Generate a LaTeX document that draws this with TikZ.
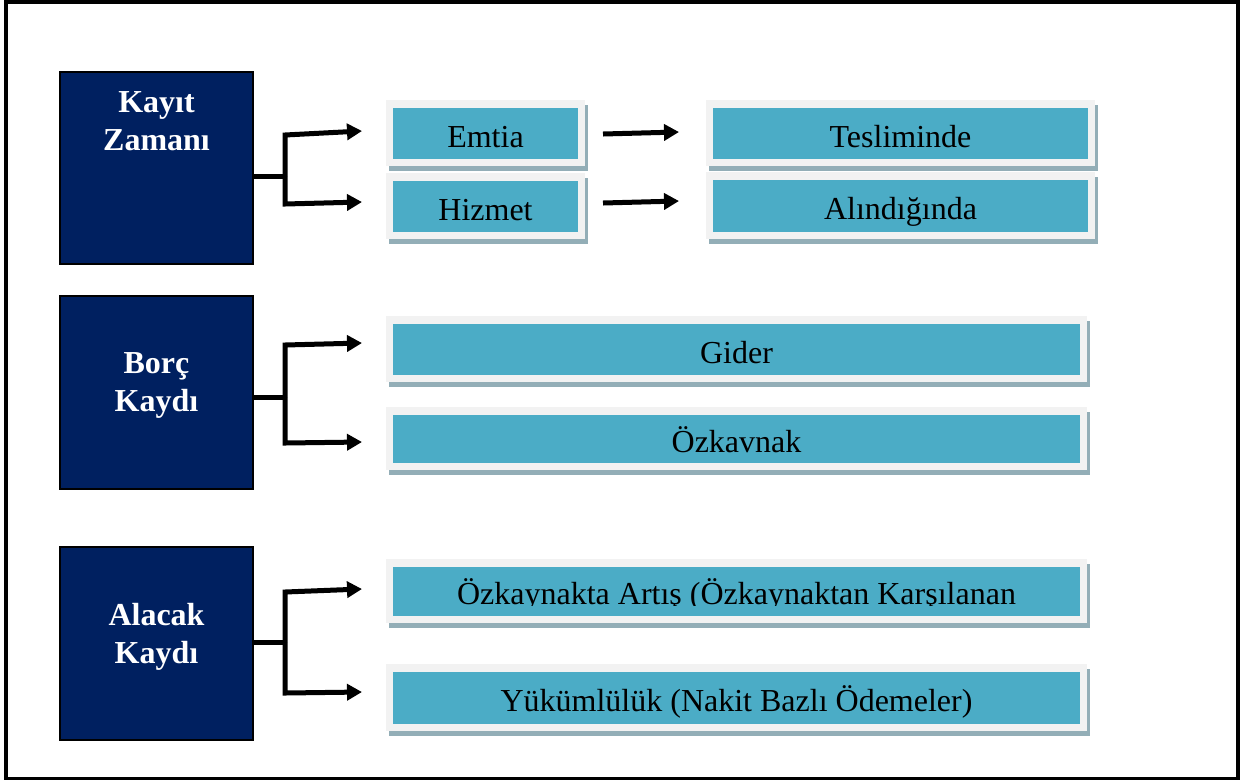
\documentclass[tikz,border=0pt]{standalone}
\usepackage{fontspec}
\setmainfont{Liberation Serif}
\usetikzlibrary{arrows.meta,fit}
\definecolor{navy}{HTML}{002060}
\definecolor{tealc}{HTML}{4BACC6}
\definecolor{lightg}{HTML}{F2F2F2}
\definecolor{shadowc}{HTML}{93AEB7}
\tikzset{
  darkbox/.style={draw=black, line width=0.6pt, fill=navy, inner sep=0pt},
  darktext/.style={text=white, font=\fontsize{16}{19}\selectfont\bfseries, align=center, inner sep=0pt},
  tealbox/.style={fill=tealc, inner sep=0pt, font=\fontsize{16}{19}\selectfont, text height=13.5pt, text depth=0pt},
  plaintext/.style={font=\fontsize{16}{19}\selectfont, inner sep=0pt},
  conn/.style={line width=2.5pt},
  arr/.style={line width=2.5pt, -{Triangle[length=7.5pt,width=8pt]}},
}
\newcommand\lightframe[4]{%
  \fill[shadowc] ({#1-7+3},{#2-8+4.5}) rectangle ({#3+7+3},{#4+7+4.5});
  \fill[lightg] ({#1-7},{#2-8}) rectangle ({#3+7},{#4+7});
}
\begin{document}
\begin{tikzpicture}[x=0.5pt,y=-0.5pt]
\useasboundingbox (0,0) rectangle (1240,783);
\fill[white] (0,0) rectangle (1240,783);
\draw[line width=1.75pt] (6,2) rectangle (1238,778.5);

% left dark boxes
\node[darkbox, fit={(60,72)(253,264)}] (kz) {};
\node[darktext] (kzt) at (156.5,121.5) {Kayıt\\Zamanı};
\node[darkbox, fit={(60,296)(253,489)}] (bk) {};
\node[darktext] (bkt) at (156.5,385.5) {Borç\\Kaydı};
\node[darkbox, fit={(60,547)(253,740)}] (ak) {};
\node[darktext] (akt) at (156.5,637) {Alacak\\Kaydı};

% light frames
\lightframe{393}{108}{578}{159}
\lightframe{393}{181}{578}{232}
\lightframe{713}{108}{1088}{159}
\lightframe{713}{180}{1088}{232}
\lightframe{393}{324}{1080}{375}
\lightframe{393}{415}{1080}{463}
\lightframe{393}{567}{1080}{616}
\lightframe{393}{672}{1080}{724}

% teal boxes
\node[tealbox, minimum width=92.5pt, minimum height=25.5pt] (emtia) at (485.5,133.5) {Emtia};
\node[tealbox, minimum width=92.5pt, minimum height=25.5pt] (hizmet) at (485.5,206.5) {Hizmet};
\node[tealbox, minimum width=187.5pt, minimum height=25.5pt] (teslim) at (900.5,133.5) {Tesliminde};
\node[tealbox, minimum width=187.5pt, minimum height=26pt] (alindi) at (900.5,206) {Alındığında};
\node[tealbox, minimum width=343.5pt, minimum height=25.5pt] (gider) at (736.5,349.5) {Gider};
\node[tealbox, minimum width=343.5pt, minimum height=24pt] (ozk) at (736.5,439) {Özkavnak};
\node[tealbox, minimum width=343.5pt, minimum height=24.5pt] (artis) at (736.5,591.5) {};
\begin{scope}
  \clip (393,567) rectangle (1080,605.5);
  \node[plaintext, anchor=base] (artist) at (736.5,604) {Özkaynakta Artış (Özkaynaktan Karşılanan};
\end{scope}
\node[tealbox, minimum width=343.5pt, minimum height=26pt] (yuk) at (736.5,698) {Yükümlülük (Nakit Bazlı Ödemeler)};

% connectors: Kayıt Zamanı
\coordinate (a0) at (285,176);
\coordinate (a1) at (285,135);
\coordinate (a1t) at (362,131);
\coordinate (a2) at (285,204);
\coordinate (a2t) at (362,202);
\draw[conn] (kz.east |- a0) -- (a0);
\draw[arr] (a0) -- (a1) -- (a1t);
\draw[arr] (a0) -- (a2) -- (a2t);

% connectors: Borç Kaydı
\coordinate (b0) at (285,397);
\coordinate (b1) at (285,345);
\coordinate (b1t) at (362,343);
\coordinate (b2) at (285,443);
\coordinate (b2t) at (362,442);
\draw[conn] (bk.east |- b0) -- (b0);
\draw[arr] (b0) -- (b1) -- (b1t);
\draw[arr] (b0) -- (b2) -- (b2t);

% connectors: Alacak Kaydı
\coordinate (c0) at (285,642);
\coordinate (c1) at (285,592);
\coordinate (c1t) at (362,589);
\coordinate (c2) at (285,693);
\coordinate (c2t) at (362,692);
\draw[conn] (ak.east |- c0) -- (c0);
\draw[arr] (c0) -- (c1) -- (c1t);
\draw[arr] (c0) -- (c2) -- (c2t);

% middle arrows
\coordinate (m1s) at (603,134);
\coordinate (m1t) at (679,132);
\coordinate (m2s) at (603,203);
\coordinate (m2t) at (679,201);
\draw[arr] (m1s) -- (m1t);
\draw[arr] (m2s) -- (m2t);
\end{tikzpicture}
\end{document}
